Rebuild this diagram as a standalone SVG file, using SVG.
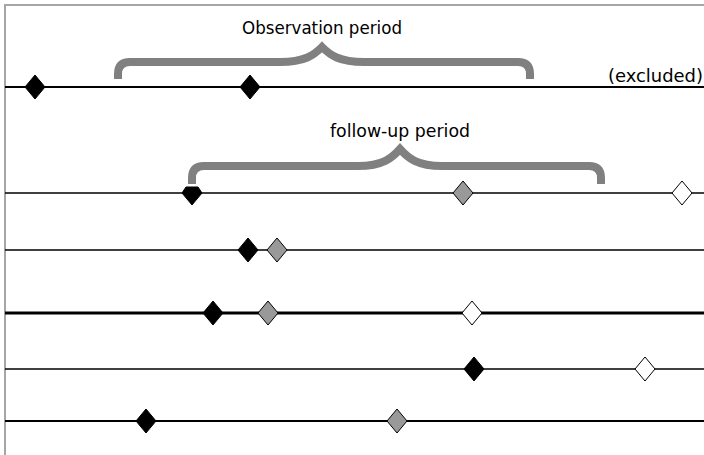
<svg xmlns="http://www.w3.org/2000/svg" width="704" height="455" viewBox="0 0 704 455">
<style>
.frame{stroke:#a6a6a6;stroke-width:2;fill:none}
.tl{stroke:#000;fill:none}
.brace{stroke:#808080;stroke-width:8;fill:none}
.blk{fill:#000;stroke:#000;stroke-width:1}
.gry{fill:#999;stroke:#000;stroke-width:1}
.wht{fill:#fff;stroke:#000;stroke-width:1}
.lbl{font-family:"DejaVu Sans Condensed","DejaVu Sans",sans-serif;font-size:18px;fill:#000}
</style>
<defs>
<polygon id="d" points="0,-12 10,0 0,12 -10,0"/>
</defs>
<rect width="704" height="455" fill="#fff"/>
<path class="frame" d="M5,455 V5 H704"/>
<g id="connectors">
<line class="tl" x1="5" y1="87" x2="704" y2="87" stroke-width="2"/>
<line class="tl" x1="5" y1="193" x2="704" y2="193" stroke-width="1.5"/>
<line class="tl" x1="5" y1="250" x2="704" y2="250" stroke-width="1.5"/>
<line class="tl" x1="5" y1="313" x2="704" y2="313" stroke-width="3"/>
<line class="tl" x1="5" y1="369" x2="704" y2="369" stroke-width="1.5"/>
<line class="tl" x1="5" y1="421" x2="704" y2="421" stroke-width="2"/>
</g>
<g id="brace-observation">
<path class="brace" d="M118,79 V74 Q118,62 130,62 H280 C305,62 314,55 322,47 C330,55 339,62 364,62 H518 Q530,62 530,74 V79"/>
<text class="lbl" x="322" y="34" text-anchor="middle" textLength="160" lengthAdjust="spacingAndGlyphs">Observation period</text>
</g>
<g id="brace-followup">
<path class="brace" d="M192,184 V178 Q192,166 204,166 H358 C383,166 392,158 400,149 C408,158 417,166 442,166 H589 Q601,166 601,178 V184"/>
<text class="lbl" x="400" y="137" text-anchor="middle" textLength="140" lengthAdjust="spacingAndGlyphs">follow-up period</text>
</g>
<g id="excluded"><text class="lbl" x="608" y="82" textLength="95" lengthAdjust="spacingAndGlyphs">(excluded)</text></g>
<g id="row1">
<use href="#d" class="blk" x="35" y="87"/>
<use href="#d" class="blk" x="250" y="87"/>
</g>
<g id="row2">
<polygon class="blk" points="186,187 198,187 202,193 192,205 182,193"/>
<use href="#d" class="gry" x="463" y="193"/>
<use href="#d" class="wht" x="682" y="193"/>
</g>
<g id="row3">
<use href="#d" class="blk" x="248" y="250"/>
<use href="#d" class="gry" x="277" y="250"/>
</g>
<g id="row4">
<use href="#d" class="blk" x="213" y="313"/>
<use href="#d" class="gry" x="268" y="313"/>
<use href="#d" class="wht" x="472" y="313"/>
</g>
<g id="row5">
<use href="#d" class="blk" x="474" y="369"/>
<use href="#d" class="wht" x="645" y="369"/>
</g>
<g id="row6">
<use href="#d" class="blk" x="146" y="421"/>
<use href="#d" class="gry" x="397" y="421"/>
</g>
</svg>
